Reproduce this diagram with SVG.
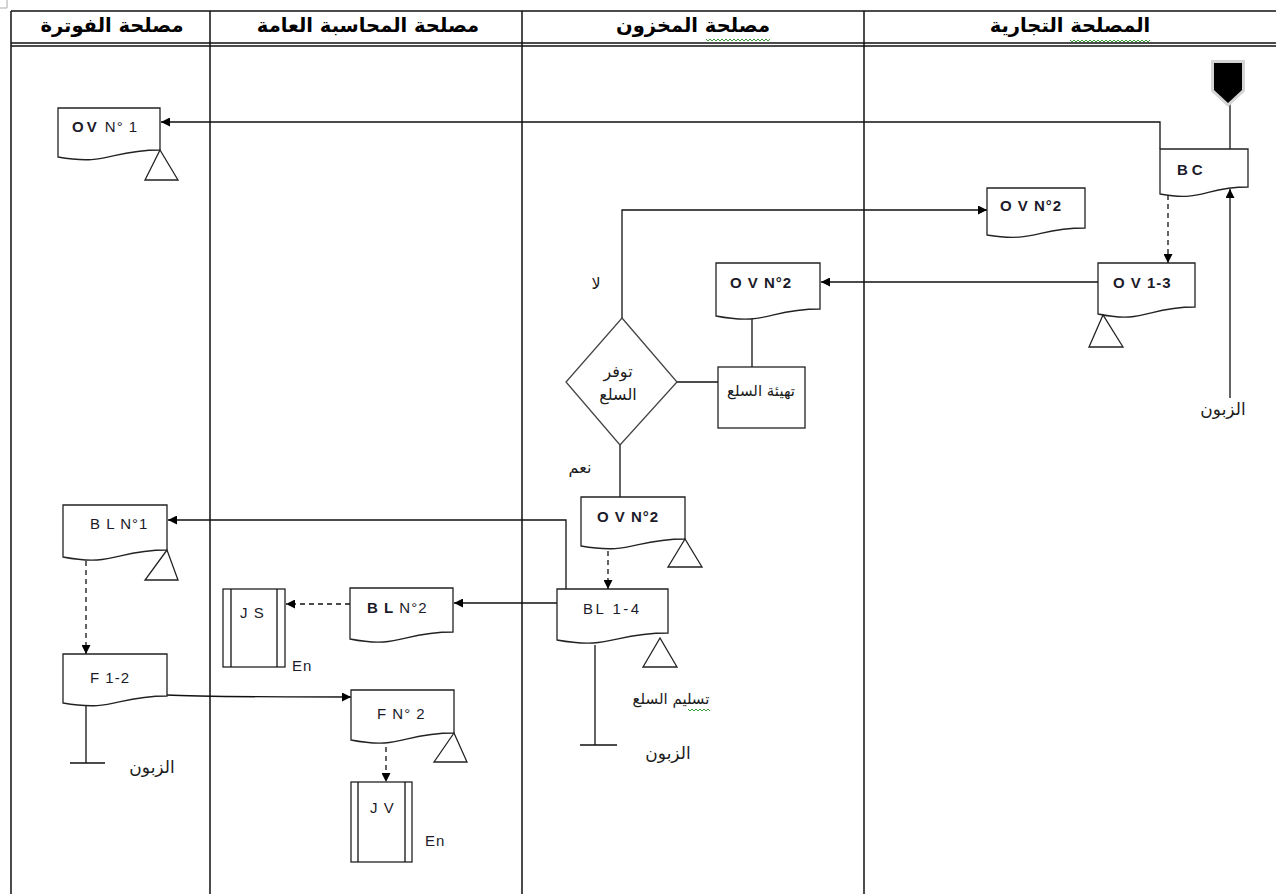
<svg xmlns="http://www.w3.org/2000/svg" width="1276" height="894" viewBox="0 0 1276 894">
<style>
.grid{stroke:#111;stroke-width:1.5;fill:none}
.ln{stroke:#111;stroke-width:1.3;fill:none}
.dash{stroke-dasharray:5 4}
.doc{fill:#fff;stroke:#222;stroke-width:1.3}
.tri{fill:#fff;stroke:#222;stroke-width:1.3}
.lbl{font-family:"Liberation Sans",Arial,sans-serif;font-size:15px;fill:#1b1b2a;letter-spacing:1px}
.b{font-weight:bold}
.ar{font-family:"DejaVu Sans",sans-serif;font-size:15px;fill:#1b1b1b}
.ar16{font-size:16px}
.ar17{font-size:17px}
.hd{font-family:"DejaVu Sans",sans-serif;font-size:19.5px;font-weight:bold;fill:#000}
.sq{stroke:#3a9a3a;stroke-width:1;fill:none}
</style>
<defs>
<marker id="ah" viewBox="0 0 10 10" refX="10" refY="5" markerWidth="9" markerHeight="9" markerUnits="userSpaceOnUse" orient="auto">
<path d="M0,0 L10,5 L0,10 Z" fill="#000"/>
</marker>
</defs>
<rect width="1276" height="894" fill="#fff"/>
<g id="table">
<path d="M7,0 V8 H0" stroke="#aaa" stroke-width="1" fill="none"/>
<line class="grid" x1="11" y1="11" x2="1276" y2="11"/>
<line class="grid" x1="11" y1="43" x2="1276" y2="43" stroke-width="1"/>
<line class="grid" x1="11" y1="46" x2="1276" y2="46" stroke-width="1"/>
<line class="grid" x1="11" y1="11" x2="11" y2="894"/>
<line class="grid" x1="210" y1="11" x2="210" y2="894"/>
<line class="grid" x1="522" y1="11" x2="522" y2="894"/>
<line class="grid" x1="864" y1="11" x2="864" y2="894"/>
<text class="hd" x="112" y="32" text-anchor="middle">مصلحة الفوترة</text>
<text class="hd" x="368" y="32" text-anchor="middle">مصلحة المحاسبة العامة</text>
<text class="hd" x="693" y="32" text-anchor="middle">مصلحة المخزون</text>
<text class="hd" x="1070" y="32" text-anchor="middle">المصلحة التجارية</text>
<polyline class="sq" points="706,39 708,41 710,39 712,41 714,39 716,41 718,39 720,41 722,39 724,41 726,39 728,41 730,39 732,41 734,39 736,41 738,39 740,41 742,39 744,41 746,39 748,41 750,39 752,41 754,39 756,41 758,39 760,41 762,39 764,41 766,39 768,41 770,39"/>
<polyline class="sq" points="1070,40 1072,42 1074,40 1076,42 1078,40 1080,42 1082,40 1084,42 1086,40 1088,42 1090,40 1092,42 1094,40 1096,42 1098,40 1100,42 1102,40 1104,42 1106,40 1108,42 1110,40 1112,42 1114,40 1116,42 1118,40 1120,42 1122,40 1124,42 1126,40 1128,42 1130,40 1132,42 1134,40 1136,42 1138,40 1140,42 1142,40 1144,42 1146,40 1148,42 1150,40"/>
</g>
<g id="connectors">
<path class="ln" d="M1160,149 V122 H161" marker-end="url(#ah)"/>
<path class="ln" d="M1230,104 V149"/>
<path class="ln" d="M1230,398 V189" marker-end="url(#ah)"/>
<path class="ln dash" d="M1168,195 V263" marker-end="url(#ah)"/>
<path class="ln" d="M1098,282 H821" marker-end="url(#ah)"/>
<path class="ln" d="M752,318 V367"/>
<path class="ln" d="M677,382 H718"/>
<path class="ln" d="M622,318 V210 H987" marker-end="url(#ah)"/>
<path class="ln" d="M620,445 V497"/>
<path class="ln dash" d="M608,551 V589" marker-end="url(#ah)"/>
<path class="ln" d="M566,589 V520 H168" marker-end="url(#ah)"/>
<path class="ln" d="M557,603 H454" marker-end="url(#ah)"/>
<path class="ln dash" d="M350,604 H286" marker-end="url(#ah)"/>
<path class="ln dash" d="M86,561 V654" marker-end="url(#ah)"/>
<path class="ln" d="M86,704 V763 M70,763 H105"/>
<path class="ln" d="M595,645 V745 M580,745 H617"/>
<path class="ln" d="M167,695 C200,697 260,697 351,697" marker-end="url(#ah)"/>
<path class="ln dash" d="M386,747 V782" marker-end="url(#ah)"/>
</g>
<g id="start">
<polygon points="1214,63 1242,63 1242,90 1228,103 1214,90" fill="#000" stroke="#d4d4d4" stroke-width="6" stroke-linejoin="miter"/>
<polygon points="1214,63 1242,63 1242,90 1228,103 1214,90" fill="#000"/>
</g>
<g id="bc">
<path class="doc" d="M1160,149 H1248 V187 C1204,187 1204,202 1160,194 Z"/>
<text class="lbl b" x="1177" y="175" style="letter-spacing:4px">BC</text>
</g>
<g id="ov1">
<path class="doc" d="M58,108 H160 V150 C109,150 109,166 58,157 Z"/>
<polygon class="tri" points="160,150 145,180 178,180"/>
<text class="lbl" x="72" y="132"><tspan class="b" style="letter-spacing:3px">OV</tspan> N° 1</text>
</g>
<g id="ov2-top">
<path class="doc" d="M987,188 H1085 V228 C1036,228 1036,243 987,235 Z"/>
<text class="lbl b" x="1000" y="211">O V N°2</text>
</g>
<g id="ov13">
<path class="doc" d="M1098,263 H1195 V307 C1146,307 1146,324 1098,314 Z"/>
<polygon class="tri" points="1103,315 1089,347 1123,347"/>
<text class="lbl b" x="1113" y="288">O V 1-3</text>
</g>
<g id="client-right">
<text class="ar ar17" x="1223" y="415" text-anchor="middle">الزبون</text>
</g>
<g id="ov2-mid">
<path class="doc" d="M716,263 H820 V309 C768,309 768,326 716,316 Z"/>
<text class="lbl b" x="730" y="288">O V  N°2</text>
</g>
<g id="prep">
<rect x="718" y="367" width="87" height="61" fill="#fff" stroke="#222" stroke-width="1.3"/>
<text class="ar" x="761" y="396" text-anchor="middle">تهيئة السلع</text>
</g>
<g id="decision">
<polygon points="622,318 677,382 620,445 566,382" fill="#fff" stroke="#444" stroke-width="1.3"/>
<text class="ar ar16" x="618" y="377" text-anchor="middle">توفر</text>
<text class="ar ar16" x="618" y="400" text-anchor="middle">السلع</text>
<text class="ar ar16" x="596" y="289" text-anchor="middle">لا</text>
<text class="ar ar16" x="580" y="473" text-anchor="middle">نعم</text>
</g>
<g id="ov2-low">
<path class="doc" d="M581,497 H685 V539 C633,539 633,555 581,546 Z"/>
<polygon class="tri" points="685,539 668,567 702,567"/>
<text class="lbl b" x="597" y="522">O V  N°2</text>
</g>
<g id="bl14">
<path class="doc" d="M557,589 H668 V633 C612,633 612,650 557,640 Z"/>
<polygon class="tri" points="660,638 643,667 677,667"/>
<text class="lbl" x="583" y="614" style="letter-spacing:2.5px">BL 1-4</text>
<text class="ar" x="671" y="704" text-anchor="middle">تسليم السلع</text>
<polyline class="sq" points="688,709 690,711 692,709 694,711 696,709 698,711 700,709 702,711 704,709 706,711 708,709 710,711"/>
<text class="ar ar17" x="668" y="759" text-anchor="middle">الزبون</text>
</g>
<g id="bl2">
<path class="doc" d="M350,588 H453 V632 C401,632 401,649 350,639 Z"/>
<text class="lbl" x="367" y="613"><tspan class="b">B  L</tspan>  N°2</text>
</g>
<g id="js">
<rect x="223" y="589" width="62" height="78" fill="#fff" stroke="#222" stroke-width="1.3"/>
<line class="ln" x1="231" y1="589" x2="231" y2="667"/>
<line class="ln" x1="277" y1="589" x2="277" y2="667"/>
<text class="lbl" x="240" y="618">J S</text>
<text class="lbl" x="292" y="671">En</text>
</g>
<g id="bl1">
<path class="doc" d="M63,505 H167 V550 C115,550 115,567 63,557 Z"/>
<polygon class="tri" points="167,550 145,580 178,580"/>
<text class="lbl" x="90" y="529">B L  N°1</text>
</g>
<g id="f12">
<path class="doc" d="M63,654 H167 V696 C115,696 115,712 63,703 Z"/>
<text class="lbl" x="90" y="683">F  1-2</text>
<text class="ar ar17" x="152" y="773" text-anchor="middle">الزبون</text>
</g>
<g id="fn2">
<path class="doc" d="M351,690 H454 V733 C402,733 402,750 351,740 Z"/>
<polygon class="tri" points="454,733 434,762 467,762"/>
<text class="lbl" x="377" y="719">F  N° 2</text>
</g>
<g id="jv">
<rect x="351" y="782" width="61" height="80" fill="#fff" stroke="#222" stroke-width="1.3"/>
<line class="ln" x1="358" y1="782" x2="358" y2="862"/>
<line class="ln" x1="405" y1="782" x2="405" y2="862"/>
<text class="lbl" x="370" y="813">J V</text>
<text class="lbl" x="425" y="846">En</text>
</g>
</svg>
